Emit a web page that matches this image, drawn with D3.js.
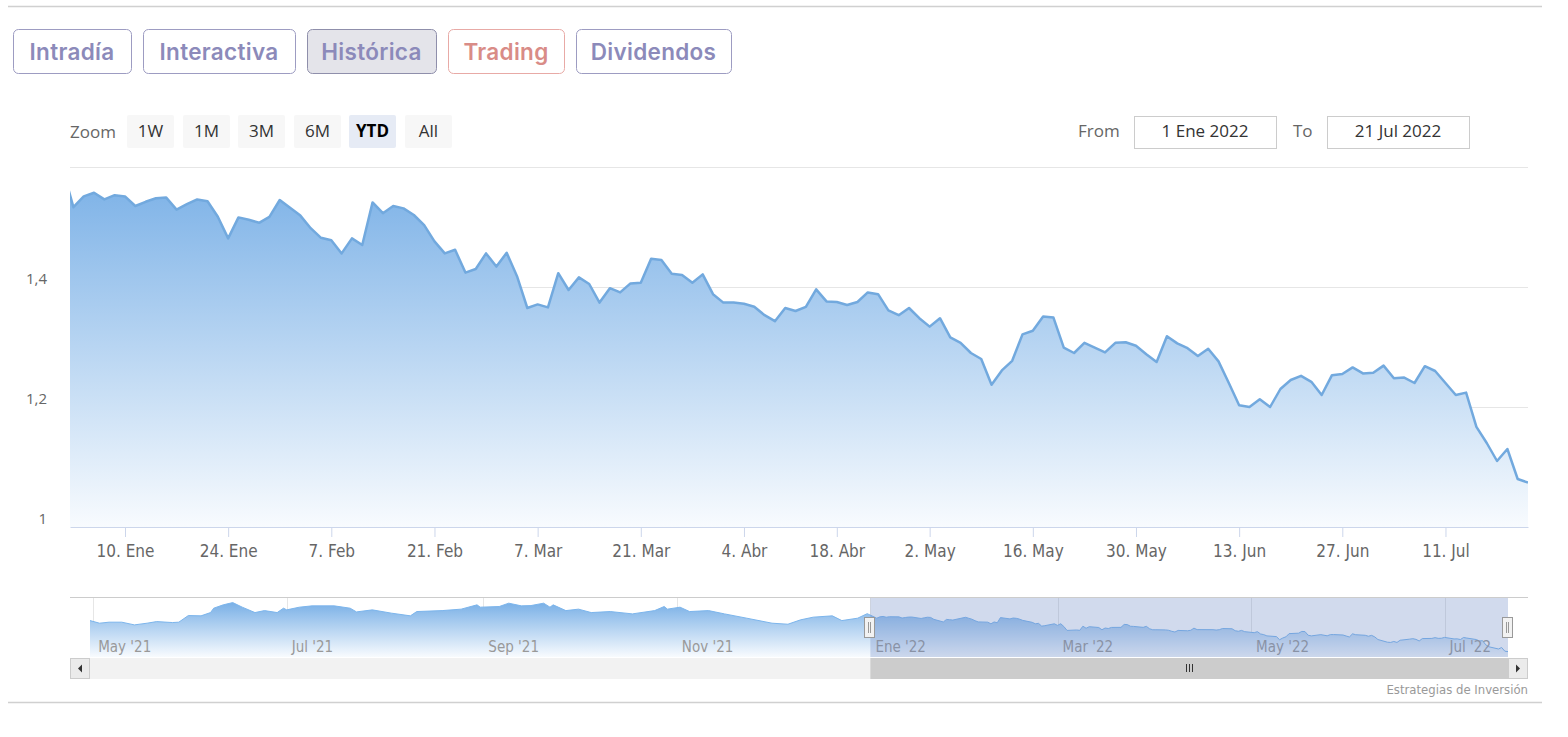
<!DOCTYPE html>
<html>
<head>
<meta charset="utf-8">
<script src="https://cdn.jsdelivr.net/npm/d3@7"></script>
<style>
  body { margin: 0; background: #fff; }
  svg { display: block; font-family: "Open Sans", sans-serif; }
  .tab { font-family: Inter, sans-serif; font-weight: 600; font-size: 22.5px; letter-spacing: 0.3px; }
  .narrow { font-family: "Liberation Sans Narrow", "DejaVu Sans Condensed", sans-serif; }
</style>
</head>
<body>
<div id="chart"></div>
<script>
var width = 1568;
var height = 737;

// ---- data ----
var firstDay = "2021-12-31";
var lastDay = "2022-07-21";
var rangeFrom = "2022-01-01";
var holidays = ["2022-04-15", "2022-04-18"];

// daily close, one per trading day from firstDay to lastDay
var prices = [
  1.595,
  1.533, 1.551, 1.557, 1.546, 1.553,
  1.551, 1.535, 1.542, 1.548, 1.549,
  1.529, 1.538, 1.546, 1.543, 1.517,
  1.481, 1.516, 1.512, 1.507, 1.517,
  1.545, 1.532, 1.519, 1.498, 1.482,
  1.478, 1.456, 1.481, 1.470, 1.541,
  1.523, 1.535, 1.531, 1.520, 1.503,
  1.476, 1.456, 1.462, 1.424, 1.430,
  1.456, 1.434, 1.457, 1.418, 1.365,
  1.371, 1.366, 1.423, 1.395, 1.416,
  1.405, 1.374, 1.398, 1.391, 1.406,
  1.407, 1.447, 1.445, 1.422, 1.420,
  1.407, 1.421, 1.388, 1.374, 1.374,
  1.372, 1.367, 1.353, 1.343, 1.365,
  1.360, 1.367, 1.396, 1.376, 1.375,
  1.370, 1.375, 1.391, 1.388, 1.361,
  1.353, 1.365, 1.348, 1.334, 1.348,
  1.316, 1.307, 1.290, 1.280, 1.237,
  1.261, 1.277, 1.321, 1.327, 1.351,
  1.349, 1.299, 1.290, 1.307, 1.299,
  1.291, 1.307, 1.308, 1.302, 1.288,
  1.275, 1.318, 1.306, 1.298, 1.285,
  1.297, 1.276, 1.240, 1.203, 1.200,
  1.213, 1.200, 1.230, 1.245, 1.252,
  1.242, 1.220, 1.253, 1.255, 1.266,
  1.256, 1.257, 1.269, 1.248, 1.249,
  1.240, 1.268, 1.260, 1.240, 1.220,
  1.224, 1.167, 1.140, 1.110, 1.130,
  1.080, 1.074
];

// older history shown only in the navigator
var navDates2021 = [
  "2021-04-30", "2021-05-03", "2021-05-06", "2021-05-10", "2021-05-14", "2021-05-18",
  "2021-05-21", "2021-05-26", "2021-05-28", "2021-05-31", "2021-06-04", "2021-06-07",
  "2021-06-08", "2021-06-11", "2021-06-14", "2021-06-17", "2021-06-21", "2021-06-24",
  "2021-06-28", "2021-06-30", "2021-07-01", "2021-07-05", "2021-07-09", "2021-07-16",
  "2021-07-21", "2021-07-23", "2021-07-28", "2021-08-03", "2021-08-09", "2021-08-11",
  "2021-08-19", "2021-08-25", "2021-08-30", "2021-08-31", "2021-09-06", "2021-09-09",
  "2021-09-13", "2021-09-16", "2021-09-20", "2021-09-22", "2021-09-23", "2021-09-27",
  "2021-10-01", "2021-10-05", "2021-10-11", "2021-10-18", "2021-10-25", "2021-10-28",
  "2021-10-29", "2021-11-02", "2021-11-05", "2021-11-11", "2021-11-16", "2021-11-23",
  "2021-12-01", "2021-12-06", "2021-12-10", "2021-12-14", "2021-12-20", "2021-12-23",
  "2021-12-28"
];
var navPrices2021 = [
  1.500, 1.464, 1.478, 1.478, 1.441, 1.464,
  1.486, 1.473, 1.478, 1.569, 1.565, 1.610,
  1.670, 1.716, 1.747, 1.684, 1.610, 1.637,
  1.610, 1.670, 1.647, 1.684, 1.702, 1.702,
  1.670, 1.619, 1.647, 1.602, 1.565, 1.624,
  1.637, 1.657, 1.716, 1.684, 1.693, 1.739,
  1.702, 1.706, 1.739, 1.684, 1.716, 1.637,
  1.657, 1.610, 1.624, 1.592, 1.637, 1.693,
  1.657, 1.684, 1.624, 1.637, 1.592, 1.533,
  1.464, 1.450, 1.510, 1.547, 1.565, 1.500,
  1.533
];

var tickDates = ["2022-01-10", "2022-01-24", "2022-02-07", "2022-02-21", "2022-03-07",
                 "2022-03-21", "2022-04-04", "2022-04-18", "2022-05-02", "2022-05-16",
                 "2022-05-30", "2022-06-13", "2022-06-27", "2022-07-11"];
var tickLabels = ["10. Ene", "24. Ene", "7. Feb", "21. Feb", "7. Mar", "21. Mar", "4. Abr",
                  "18. Abr", "2. May", "16. May", "30. May", "13. Jun", "27. Jun", "11. Jul"];
var yGrid = [1.2, 1.4, 1.6];
var yLabels = [1, 1.2, 1.4];
var navTickDates = ["2021-05-01", "2021-07-01", "2021-09-01", "2021-11-01",
                    "2022-01-01", "2022-03-01", "2022-05-01", "2022-07-01"];
var navTickLabels = ["May '21", "Jul '21", "Sep '21", "Nov '21",
                     "Ene '22", "Mar '22", "May '22", "Jul '22"];

var tabs = ["Intradía", "Interactiva", "Histórica", "Trading", "Dividendos"];
var zoomButtons = ["1W", "1M", "3M", "6M", "YTD", "All"];
var fromLabel = "1 Ene 2022";
var toLabel = "21 Jul 2022";

// ---- layout ----
var plot = { left: 70, right: 1528, top: 167, bottom: 527 };
var nav = { left: 90, right: 1508, top: 598, bottom: 657 };
var viewStart = 0.67; // 1 Ene falls between the 31 Dic and 3 Ene points

var parseDate = d3.timeParse("%Y-%m-%d");
var fmtDay = d3.timeFormat("%Y-%m-%d");
var esLocale = d3.formatLocale({ decimal: ",", thousands: ".", grouping: [3], currency: ["", "€"] });

var tradingDays = d3.timeDay.range(parseDate(firstDay), d3.timeDay.offset(parseDate(lastDay), 1))
    .filter(function(d) { return d.getDay() != 0 && d.getDay() != 6 && holidays.indexOf(fmtDay(d)) < 0; });

var svg = d3.select("#chart")
    .append("svg")
    .attr("width", width)
    .attr("height", height);

var defs = svg.append("defs");

function gradient(id, y1, y2) {
  var g = defs.append("linearGradient")
      .attr("id", id)
      .attr("gradientUnits", "userSpaceOnUse")
      .attr("x1", 0).attr("x2", 0)
      .attr("y1", y1).attr("y2", y2);
  g.append("stop").attr("offset", 0).attr("stop-color", "#78afe6");
  g.append("stop").attr("offset", 1).attr("stop-color", "#f8fbfe");
}
gradient("areaFill", plot.top, plot.bottom);
gradient("navFill", nav.top + 4, nav.bottom);

defs.append("clipPath").attr("id", "plotClip")
    .append("rect")
    .attr("x", plot.left).attr("y", plot.top - 5)
    .attr("width", plot.right - plot.left).attr("height", plot.bottom - plot.top + 5);

// frame lines
svg.append("line").attr("x1", 8).attr("x2", 1542).attr("y1", 6.5).attr("y2", 6.5)
    .attr("stroke", "#d0d0d0").attr("stroke-width", 1.5);
svg.append("line").attr("x1", 8).attr("x2", 1542).attr("y1", 702.5).attr("y2", 702.5)
    .attr("stroke", "#d0d0d0").attr("stroke-width", 1.5);

// top tabs
var tabX = [13, 143, 307, 448, 576];
var tabW = [118, 152, 129, 116, 155];
tabs.forEach(function(t, i) {
  var selected = t == "Histórica";
  var pink = t == "Trading";
  svg.append("rect")
      .attr("x", tabX[i] + 0.5).attr("y", 29.5)
      .attr("width", tabW[i]).attr("height", 44)
      .attr("rx", 5)
      .attr("fill", selected ? "#e4e4ea" : "#fff")
      .attr("stroke", pink ? "#e8aaa6" : (selected ? "#8f8fab" : "#9d9cc2"))
      .attr("stroke-width", 1);
  svg.append("text")
      .attr("class", "tab")
      .attr("x", tabX[i] + tabW[i] / 2).attr("y", 59.5)
      .attr("text-anchor", "middle")
      .attr("fill", pink ? "#d98c87" : "#8c8aba")
      .text(t);
});

// range selector
svg.append("text").attr("x", 70).attr("y", 138)
    .attr("font-size", 17).attr("fill", "#666").text("Zoom");
var zoomX = [127, 183, 238, 294, 349, 405];
zoomButtons.forEach(function(b, i) {
  var sel = b == "YTD";
  svg.append("rect")
      .attr("x", zoomX[i]).attr("y", 115)
      .attr("width", 47).attr("height", 33).attr("rx", 2)
      .attr("fill", sel ? "#e6ebf5" : "#f7f7f7");
  svg.append("text")
      .attr("x", zoomX[i] + 23.5).attr("y", 137)
      .attr("text-anchor", "middle")
      .attr("font-size", 17)
      .attr("font-weight", sel ? "bold" : "normal")
      .attr("fill", sel ? "#000" : "#333")
      .text(b);
});

function dateBox(label, lx, bx, value) {
  svg.append("text").attr("x", lx).attr("y", 137)
      .attr("font-size", 17).attr("fill", "#666").text(label);
  svg.append("rect").attr("x", bx + 0.5).attr("y", 116.5)
      .attr("width", 142).attr("height", 32)
      .attr("fill", "#fff").attr("stroke", "#cccccc");
  svg.append("text").attr("x", bx + 71).attr("y", 137)
      .attr("text-anchor", "middle")
      .attr("font-size", 17).attr("fill", "#333").text(value);
}
dateBox("From", 1078, 1134, fromLabel);
dateBox("To", 1293, 1327, toLabel);

// ---- main chart ----
var scaleX = d3.scaleLinear()
    .domain([viewStart, prices.length - 1])
    .range([plot.left, plot.right]);

var scaleY = d3.scaleLinear()
    .domain([1, 1.6])
    .range([plot.bottom, plot.top]);

// grid
svg.append("g").selectAll("line")
    .data(yGrid)
    .enter()
    .append("line")
    .attr("x1", plot.left).attr("x2", plot.right)
    .attr("y1", function(d) { return Math.round(scaleY(d)) + 0.5; })
    .attr("y2", function(d) { return Math.round(scaleY(d)) + 0.5; })
    .attr("stroke", "#e6e6e6");

var area = d3.area()
    .x(function(d, i) { return scaleX(i); })
    .y0(plot.bottom)
    .y1(function(d) { return scaleY(d); });

var valueline = d3.line()
    .x(function(d, i) { return scaleX(i); })
    .y(function(d) { return scaleY(d); });

var series = svg.append("g").attr("clip-path", "url(#plotClip)");
series.append("path")
    .datum(prices)
    .attr("fill", "url(#areaFill)")
    .attr("d", area);
series.append("path")
    .datum(prices)
    .attr("fill", "none")
    .attr("stroke", "#72a9de")
    .attr("stroke-width", 2.5)
    .attr("stroke-linejoin", "round")
    .attr("d", valueline);

// y axis labels
var yAxis = svg.append("g")
    .attr("transform", "translate(" + plot.left + ",0)")
    .call(d3.axisLeft(scaleY)
      .tickValues(yLabels)
      .tickSize(0)
      .tickPadding(23)
      .tickFormat(esLocale.format("~g")));
yAxis.select(".domain").remove();
yAxis.selectAll("text")
    .attr("y", -8)
    .attr("font-size", 15)
    .attr("font-family", "'Open Sans', sans-serif")
    .attr("fill", "#666");

// x axis
var tickIdx = tickDates.map(function(d) { return d3.bisectLeft(tradingDays, parseDate(d)); });
var xAxis = svg.append("g")
    .attr("class", "narrow")
    .attr("transform", "translate(0," + plot.bottom + ")")
    .call(d3.axisBottom(scaleX)
      .tickValues(tickIdx)
      .tickSize(10)
      .tickSizeOuter(0)
      .tickPadding(8)
      .tickFormat(function(d, i) { return tickLabels[i]; }));
xAxis.select(".domain").attr("stroke", "#ccd6eb");
xAxis.selectAll(".tick line").attr("stroke", "#ccd6eb");
xAxis.selectAll("text")
    .attr("font-size", 17)
    .attr("font-family", "'Liberation Sans Narrow', 'DejaVu Sans Condensed', sans-serif")
    .attr("fill", "#666");

// ---- navigator ----
var navData = navDates2021.map(function(d, i) { return { date: parseDate(d), v: navPrices2021[i] }; })
    .concat(tradingDays.map(function(d, i) { return { date: d, v: prices[i] }; }));

var navX = d3.scaleTime()
    .domain([parseDate(navDates2021[0]), parseDate(lastDay)])
    .range([nav.left, nav.right]);
var navY = d3.scaleLinear()
    .domain([1.0, 1.81])
    .range([nav.bottom, nav.top]);

var navG = svg.append("g");

navG.selectAll(".navgrid")
    .data(navTickDates)
    .enter()
    .append("line")
    .attr("x1", function(d) { return Math.round(navX(parseDate(d))) + 0.5; })
    .attr("x2", function(d) { return Math.round(navX(parseDate(d))) + 0.5; })
    .attr("y1", nav.top).attr("y2", nav.bottom)
    .attr("stroke", "#e6e6e6");

navG.append("path")
    .datum(navData)
    .attr("fill", "url(#navFill)")
    .attr("d", d3.area()
      .x(function(d) { return navX(d.date); })
      .y0(nav.bottom)
      .y1(function(d) { return navY(d.v); }));
navG.append("path")
    .datum(navData)
    .attr("fill", "none")
    .attr("stroke", "#7cb5ec")
    .attr("stroke-width", 1)
    .attr("d", d3.line()
      .x(function(d) { return navX(d.date); })
      .y(function(d) { return navY(d.v); }));

navG.selectAll(".navlabel")
    .data(navTickDates)
    .enter()
    .append("text")
    .attr("class", "narrow")
    .attr("x", function(d) { return navX(parseDate(d)) + 5; })
    .attr("y", 652)
    .attr("font-size", 15)
    .attr("fill", "#999")
    .text(function(d, i) { return navTickLabels[i]; });

var selX0 = navX(parseDate(rangeFrom));
var selX1 = navX(parseDate(lastDay));

navG.append("rect")
    .attr("x", selX0).attr("y", nav.top)
    .attr("width", selX1 - selX0).attr("height", nav.bottom - nav.top)
    .attr("fill", "rgba(102,133,194,0.3)");

navG.append("line")
    .attr("x1", plot.left).attr("x2", plot.right)
    .attr("y1", nav.top - 0.5).attr("y2", nav.top - 0.5)
    .attr("stroke", "#cccccc");

// scrollbar
var sb = { top: 658, h: 21 };
svg.append("rect").attr("x", plot.left).attr("y", sb.top)
    .attr("width", plot.right - plot.left).attr("height", sb.h)
    .attr("fill", "#f2f2f2");
svg.append("rect").attr("x", selX0).attr("y", sb.top)
    .attr("width", selX1 - selX0).attr("height", sb.h)
    .attr("fill", "#cccccc");
[0, 3, 6].forEach(function(o) {
  var gx = Math.round((selX0 + selX1) / 2) - 3 + o + 0.5;
  svg.append("line").attr("x1", gx).attr("x2", gx)
      .attr("y1", sb.top + 6).attr("y2", sb.top + 14)
      .attr("stroke", "#333");
});
[[plot.left, -1], [plot.right - 20, 1]].forEach(function(b) {
  svg.append("rect").attr("x", b[0] + 0.5).attr("y", sb.top + 0.5)
      .attr("width", 19).attr("height", sb.h - 1)
      .attr("fill", "#ebebeb").attr("stroke", "#cccccc");
  var cx = b[0] + 10, cy = sb.top + sb.h / 2;
  svg.append("path")
      .attr("d", "M" + (cx - 2 * b[1]) + "," + (cy - 4) + "L" + (cx + 2 * b[1]) + "," + cy +
                 "L" + (cx - 2 * b[1]) + "," + (cy + 4) + "Z")
      .attr("fill", "#333");
});

// navigator handles
[selX0, selX1].forEach(function(hx) {
  var x = Math.round(hx) - 5.5;
  svg.append("rect").attr("x", x).attr("y", 617.5)
      .attr("width", 10).attr("height", 20)
      .attr("fill", "#f2f2f2").attr("stroke", "#999");
  [4, 6].forEach(function(o) {
    svg.append("line").attr("x1", x + o).attr("x2", x + o)
        .attr("y1", 622).attr("y2", 633).attr("stroke", "#999");
  });
});

// credit
svg.append("text")
    .attr("class", "narrow")
    .attr("x", plot.right).attr("y", 694)
    .attr("text-anchor", "end")
    .attr("font-size", 13)
    .attr("fill", "#999")
    .text("Estrategias de Inversión");
</script>
</body>
</html>
